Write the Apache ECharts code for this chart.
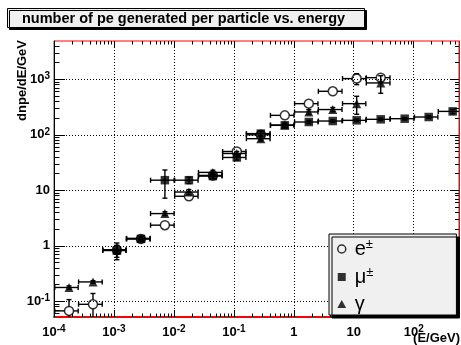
<!DOCTYPE html>
<html>
<head>
<meta charset="utf-8">
<script src="https://cdn.jsdelivr.net/npm/echarts@6/dist/echarts.min.js"></script>
<style>
  html, body { margin: 0; padding: 0; background: #fff; }
  #chart { width: 461px; height: 345px; }
</style>
</head>
<body>
<div id="chart"></div>
<script>
// bin centres (GeV) and half widths
const energies = [1.78e-4, 4.47e-4, 1.12e-3, 2.82e-3, 7.08e-3, 1.78e-2, 4.47e-2, 0.112, 0.282, 0.708, 1.78, 4.47, 11.2, 28.2, 70.8, 178, 447];
const energyErrors = [7.5e-5, 1.9e-4, 4.7e-4, 1.2e-3, 3.0e-3, 7.5e-3, 1.9e-2, 0.047, 0.12, 0.30, 0.75, 1.9, 4.7, 12, 30, 75, 190];

const electronValues = [0.067, 0.088, 0.84, 1.33, 2.35, 7.8, 18.5, 50, 100, 224, 364, 608, 1030, 1070, null, null, null];
const electronErrors = [0.04, 0.05, 0.28, 0.12, 0.25, 0.8, 1.5, 4, 8, 18, 30, 50, 230, 200, null, null, null];
const muonValues = [null, null, 0.82, 1.33, 15.2, 15.2, 18, 39, 105, 148, 170, 177, 182, 190, 195, 209, 264];
const muonErrors = [null, null, 0.2, 0.1, 8, 2, 1.5, 4, 10, 12, 12, 10, 10, 10, 10, 12, 25];
const gammaValues = [0.177, 0.223, 0.85, 1.36, 3.8, 9.3, 21, 46, 85, 150, 258, 285, 364, 860, null, null, null];
const gammaErrors = [0.012, 0.012, 0.15, 0.1, 0.3, 1, 2, 4, 8, 15, 25, 25, 130, 300, null, null, null];

const xRange = [1e-4, 570];
const yRange = [0.052, 4900];
const xMajorTicks = [1e-4, 1e-3, 1e-2, 1e-1, 1, 10, 100];
const yMajorTicks = [0.01, 0.1, 1, 10, 100, 1000];
const minorSteps = [2, 3, 4, 5, 6, 7, 8, 9];

function minorTicks(decades, range) {
  const out = [];
  decades.forEach((d) => minorSteps.forEach((m) => {
    const v = d * m;
    if (v > range[0] && v < range[1]) out.push(v);
  }));
  return out;
}
const xMinorTicks = minorTicks(xMajorTicks, xRange);
const yMinorTicks = minorTicks(yMajorTicks, yRange);
const xMajorIn = xMajorTicks.filter((v) => v >= xRange[0] && v <= xRange[1]);
const yMajorIn = yMajorTicks.filter((v) => v >= yRange[0] && v <= yRange[1]);

const chart = echarts.init(document.getElementById("chart"), null, { renderer: "canvas" });
const FONT = "Liberation Sans, Arial, Helvetica, sans-serif";

function powerLabel(value) {
  const exp = Math.round(Math.log10(value));
  if (exp === 0) return "{b|1}";
  if (exp === 1) return "{b|10}";
  return "{b|10}{s|" + exp + "}";
}

const labelRich = {
  b: { fontFamily: FONT, fontWeight: "bold", fontSize: 13, color: "#000", lineHeight: 16 },
  s: { fontFamily: FONT, fontWeight: "bold", fontSize: 10, color: "#000", lineHeight: 10, verticalAlign: "top" }
};

function points(values, errors) {
  const out = [];
  energies.forEach((energy, i) => {
    if (values[i] != null) {
      out.push([energy, values[i], energyErrors[i], errors[i]]);
    }
  });
  return out;
}

function errorSeries(name, values, errors, gap) {
  return {
    type: "custom",
    name: name,
    data: points(values, errors),
    encode: { x: 0, y: 1 },
    clip: true,
    silent: true,
    z: 3,
    renderItem: (params, api) => {
      const x = api.value(0);
      const y = api.value(1);
      const ex = api.value(2);
      const ey = api.value(3);
      const c = api.coord([x, y]);
      const left = api.coord([x - ex, y])[0];
      const right = api.coord([x + ex, y])[0];
      const top = api.coord([x, y + ey])[1];
      const bottom = api.coord([x, y - ey > 0 ? y - ey : 1e-9])[1];
      const cap = 2.5;
      const segs = [];
      if (c[0] - gap > left) segs.push([left, c[1], c[0] - gap, c[1]]);
      if (right > c[0] + gap) segs.push([c[0] + gap, c[1], right, c[1]]);
      if (c[1] - gap > top) segs.push([c[0], top, c[0], c[1] - gap]);
      if (bottom > c[1] + gap) segs.push([c[0], c[1] + gap, c[0], bottom]);
      segs.push([left, c[1] - cap, left, c[1] + cap]);
      segs.push([right, c[1] - cap, right, c[1] + cap]);
      if (c[1] - gap > top) segs.push([c[0] - cap, top, c[0] + cap, top]);
      if (bottom > c[1] + gap) segs.push([c[0] - cap, bottom, c[0] + cap, bottom]);
      return {
        type: "group",
        children: segs.map((s) => ({
          type: "line",
          shape: { x1: s[0], y1: s[1], x2: s[2], y2: s[3] },
          style: { stroke: "#000", lineWidth: 1.4 }
        }))
      };
    }
  };
}

function markerSeries(name, values, errors, symbol, size, itemStyle) {
  return {
    type: "scatter",
    name: name,
    data: points(values, errors).map((p) => [p[0], p[1]]),
    symbol: symbol,
    symbolSize: size,
    itemStyle: itemStyle,
    z: 4,
    silent: true
  };
}

// one log axis; ticks only at the given values
function logAxis(range, position, ticks, tickLen, opts) {
  return Object.assign({
    type: "log",
    min: range[0],
    max: range[1],
    position: position,
    axisLine: { show: false, onZero: false },
    axisTick: { show: true, inside: true, length: tickLen, customValues: ticks, lineStyle: { color: "#000", width: 1 } },
    minorTick: { show: false },
    splitLine: { show: false },
    axisLabel: { show: false },
    silent: true
  }, opts || {});
}

const openCircle = { color: "rgba(0,0,0,0)", borderColor: "#000", borderWidth: 1.5 };
const filled = { color: "#000" };
const dotted = { show: true, lineStyle: { color: "#000", width: 1, type: [1, 2] } };

chart.setOption({
  animation: false,
  backgroundColor: "#fff",
  title: {
    text: "number of pe generated per particle vs. energy",
    left: 7,
    top: 8,
    padding: [3, 20, 2, 15],
    backgroundColor: "#f0f0f0",
    borderColor: "#000",
    borderWidth: 1,
    shadowColor: "#000",
    shadowOffsetX: 2,
    shadowOffsetY: 2,
    shadowBlur: 0,
    textStyle: { fontFamily: FONT, fontWeight: "bold", fontSize: 14.5, color: "#000" }
  },
  grid: {
    left: 54,
    right: 2,
    top: 41,
    height: 276,
    show: true,
    borderColor: "#ff0000",
    borderWidth: 1,
    backgroundColor: "#fff"
  },
  legend: {
    orient: "vertical",
    left: 329,
    top: 234,
    padding: [4, 83, 1, 8],
    itemGap: 7,
    itemWidth: 16,
    itemHeight: 8,
    symbolKeepAspect: true,
    backgroundColor: "#f0f0f0",
    borderColor: "#000",
    borderWidth: 1,
    shadowColor: "#000",
    shadowOffsetX: 3,
    shadowOffsetY: 3,
    shadowBlur: 0,
    selectedMode: false,
    data: [
      { name: "e±", icon: "circle", itemStyle: openCircle },
      { name: "μ±", icon: "path://M0,0L1,0L1,1L0,1Z", itemStyle: filled },
      { name: "γ", icon: "path://M0.5,0L1,0.9L0,0.9Z", itemStyle: filled }
    ],
    formatter: (name) => {
      if (name === "e±") return "{n|e}{s|±}";
      if (name === "μ±") return "{n|μ}{s|±}";
      return "{n|γ}";
    },
    textStyle: {
      rich: {
        n: { fontFamily: FONT, fontSize: 20, color: "#000", lineHeight: 22 },
        s: { fontFamily: FONT, fontSize: 13, color: "#000", lineHeight: 13, verticalAlign: "top" }
      }
    }
  },
  xAxis: [
    logAxis(xRange, "bottom", xMajorIn, 7, {
      axisLine: { show: true, onZero: false, lineStyle: { color: "#ff0000", width: 2 } },
      splitLine: dotted,
      axisLabel: { show: true, margin: 7, customValues: xMajorIn, formatter: powerLabel, rich: labelRich }
    }),
    logAxis(xRange, "bottom", xMinorTicks, 3.5),
    logAxis(xRange, "top", xMajorIn, 7),
    logAxis(xRange, "top", xMinorTicks, 3.5)
  ],
  yAxis: [
    logAxis(yRange, "left", yMajorIn, 11, {
      axisLine: { show: true, onZero: false, lineStyle: { color: "#000", width: 1 } },
      splitLine: dotted,
      axisLabel: { show: true, margin: 4, customValues: yMajorIn, formatter: powerLabel, rich: labelRich }
    }),
    logAxis(yRange, "left", yMinorTicks, 5.5),
    logAxis(yRange, "right", yMajorIn, 8, {
      axisLine: { show: true, onZero: false, lineStyle: { color: "#ff0000", width: 1 } }
    }),
    logAxis(yRange, "right", yMinorTicks, 4)
  ],
  graphic: [
    {
      type: "text",
      x: 22,
      y: 40,
      rotation: Math.PI / 2,
      style: {
        text: "dnpe/dE/GeV",
        fill: "#000",
        font: "bold 13px " + FONT,
        textAlign: "right",
        textVerticalAlign: "middle"
      }
    },
    {
      type: "text",
      x: 460,
      y: 338,
      style: {
        text: "(E/GeV)",
        fill: "#000",
        font: "bold 13px " + FONT,
        textAlign: "right",
        textVerticalAlign: "middle"
      }
    }
  ],
  series: [
    errorSeries("e-err", electronValues, electronErrors, 4.5),
    markerSeries("e±", electronValues, electronErrors, "circle", 9, openCircle),
    errorSeries("mu-err", muonValues, muonErrors, 0),
    markerSeries("μ±", muonValues, muonErrors, "rect", 8.5, filled),
    errorSeries("g-err", gammaValues, gammaErrors, 0),
    markerSeries("γ", gammaValues, gammaErrors, "triangle", 9, filled)
  ]
});
</script>
</body>
</html>
